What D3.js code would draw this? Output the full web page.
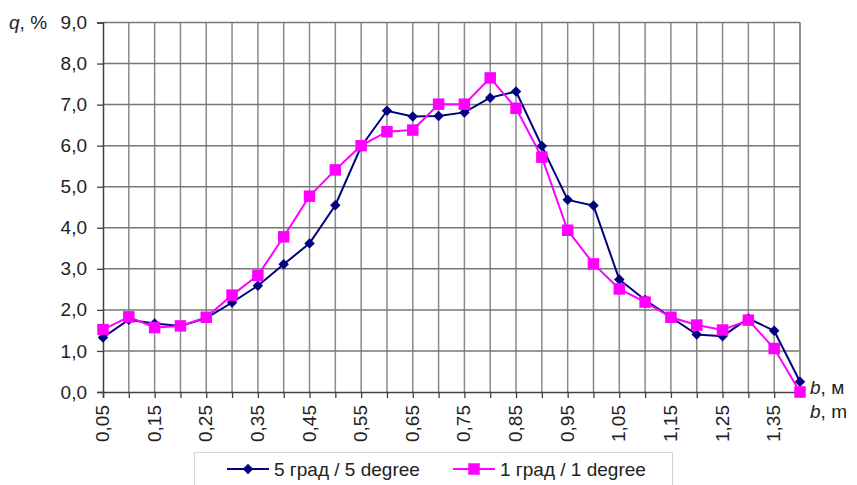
<!DOCTYPE html>
<html>
<head>
<meta charset="utf-8">
<script src="https://cdn.jsdelivr.net/npm/d3@7"></script>
<style>
  body { margin: 0; background: #fff; }
  svg { font-family: "Liberation Sans", Arial, sans-serif; }
</style>
</head>
<body>
<svg width="857" height="485"></svg>
<script>
var categories = [0.05, 0.10, 0.15, 0.20, 0.25, 0.30, 0.35, 0.40, 0.45, 0.50,
                  0.55, 0.60, 0.65, 0.70, 0.75, 0.80, 0.85, 0.90, 0.95, 1.00,
                  1.05, 1.10, 1.15, 1.20, 1.25, 1.30, 1.35, 1.40];

var deg5 = [1.33, 1.76, 1.67, 1.61, 1.80, 2.18, 2.59, 3.11, 3.62, 4.55,
            5.98, 6.85, 6.71, 6.72, 6.81, 7.17, 7.32, 5.99, 4.68, 4.54,
            2.74, 2.24, 1.82, 1.40, 1.36, 1.79, 1.49, 0.25];

var deg1 = [1.52, 1.83, 1.57, 1.61, 1.82, 2.36, 2.84, 3.78, 4.77, 5.41,
            6.00, 6.34, 6.38, 7.01, 7.01, 7.65, 6.91, 5.72, 3.94, 3.12,
            2.51, 2.19, 1.82, 1.63, 1.51, 1.75, 1.06, 0.00];

var yTicks = [0, 1, 2, 3, 4, 5, 6, 7, 8, 9];
var xLabels = ["0,05", "0,15", "0,25", "0,35", "0,45", "0,55", "0,65",
               "0,75", "0,85", "0,95", "1,05", "1,15", "1,25", "1,35"];

var seriesNames = ["5 град / 5 degree", "1 град / 1 degree"];
var seriesColors = ["#000080", "#ff00ff"];

var fontSize = 19;

var svg = d3.select("svg");

var plotLeft = 103, plotRight = 800, plotTop = 22.5, plotBottom = 392;

var scaleX = d3.scaleLinear()
                .domain([categories[0], categories[categories.length - 1]])
                .range([plotLeft, plotRight]);

var scaleY = d3.scaleLinear()
                .domain([0, 9])
                .range([plotBottom, plotTop]);

// grid
var grid = svg.append("g");
grid.selectAll(".vgrid")
    .data(categories.slice(1))
    .enter()
    .append("line")
    .attr("x1", function(d) { return scaleX(d) })
    .attr("x2", function(d) { return scaleX(d) })
    .attr("y1", plotTop)
    .attr("y2", plotBottom)
    .attr("stroke", "#8a8a8a")
    .attr("stroke-width", 1.5);

grid.selectAll(".hgrid")
    .data(yTicks.slice(1))
    .enter()
    .append("line")
    .attr("x1", plotLeft)
    .attr("x2", plotRight)
    .attr("y1", function(d) { return scaleY(d) })
    .attr("y2", function(d) { return scaleY(d) })
    .attr("stroke", "#777")
    .attr("stroke-width", 1.5);

// y axis
var yAxis = svg.append("g")
    .attr("transform", "translate(" + plotLeft + ",0)")
    .call(d3.axisLeft(scaleY)
            .tickValues(yTicks)
            .tickSize(6)
            .tickPadding(10)
            .tickFormat(function(d) { return d.toFixed(1).replace(".", ",") }));
yAxis.select(".domain").attr("stroke", "#404040").attr("stroke-width", 1.5);
yAxis.selectAll(".tick line").attr("stroke", "#404040").attr("stroke-width", 1.3);
yAxis.selectAll("text")
    .attr("font-size", fontSize)
    .attr("fill", "#222")
    .attr("font-family", "Liberation Sans, Arial, sans-serif");

// x axis
var xAxis = svg.append("g")
    .attr("transform", "translate(0," + plotBottom + ")")
    .call(d3.axisBottom(scaleX)
            .tickValues(categories)
            .tickSize(6)
            .tickFormat(""));
xAxis.select(".domain").attr("stroke", "#404040").attr("stroke-width", 1.5);
xAxis.selectAll(".tick line").attr("stroke", "#404040").attr("stroke-width", 1.3);

svg.append("g")
    .selectAll("text")
    .data(xLabels)
    .enter()
    .append("text")
    .attr("transform", function(d, i) {
        return "translate(" + (scaleX(categories[i * 2]) + 6) + "," + 405 + ") rotate(-90)";
    })
    .attr("text-anchor", "end")
    .attr("font-size", fontSize)
    .attr("fill", "#222")
    .text(function(d) { return d });

// right border
svg.append("line")
    .attr("x1", plotRight).attr("x2", plotRight)
    .attr("y1", plotTop).attr("y2", plotBottom)
    .attr("stroke", "#8a8a8a").attr("stroke-width", 1.5);

// axis titles
var qLabel = svg.append("text")
    .attr("x", 9).attr("y", 29)
    .attr("font-size", fontSize)
    .attr("fill", "#222");
qLabel.append("tspan").attr("font-style", "italic").text("q");
qLabel.append("tspan").text(", %");

[["b", ", м", 394], ["b", ", m", 418]].forEach(function(t) {
    var lab = svg.append("text")
        .attr("x", 810).attr("y", t[2])
        .attr("font-size", fontSize)
        .attr("fill", "#222");
    lab.append("tspan").attr("font-style", "italic").text(t[0]);
    lab.append("tspan").text(t[1]);
});

// series
var line = d3.line()
    .x(function(d) { return scaleX(d.x) })
    .y(function(d) { return scaleY(d.y) });

var diamond = d3.symbol().type(d3.symbolSquare).size(55);
var square = d3.symbol().type(d3.symbolSquare).size(132);

[deg5, deg1].forEach(function(vals, s) {
    var pts = vals.map(function(v, i) { return { x: categories[i], y: v } });
    svg.append("path")
        .datum(pts)
        .attr("fill", "none")
        .attr("stroke", seriesColors[s])
        .attr("stroke-width", 2)
        .attr("d", line);
});

[deg5, deg1].forEach(function(vals, s) {
    var pts = vals.map(function(v, i) { return { x: categories[i], y: v } });
    svg.append("g")
        .selectAll("path")
        .data(pts)
        .enter()
        .append("path")
        .attr("d", s == 0 ? diamond : square)
        .attr("transform", function(d) {
            return "translate(" + scaleX(d.x) + "," + scaleY(d.y) + ")" + (s == 0 ? " rotate(45)" : "");
        })
        .attr("fill", seriesColors[s]);
});

// legend
var legend = svg.append("g");
legend.append("rect")
    .attr("x", 194.5).attr("y", 452.5)
    .attr("width", 478).attr("height", 40)
    .attr("fill", "#fff")
    .attr("stroke", "#d4d4d4")
    .attr("stroke-width", 1);

var legendX = [227, 453];
var textX = [274, 500];
seriesNames.forEach(function(name, s) {
    var g = legend.append("g");
    g.append("line")
        .attr("x1", legendX[s]).attr("x2", legendX[s] + 42)
        .attr("y1", 469).attr("y2", 469)
        .attr("stroke", seriesColors[s])
        .attr("stroke-width", 2);
    g.append("path")
        .attr("d", s == 0 ? diamond : square)
        .attr("transform", "translate(" + (legendX[s] + 21) + ",469)" + (s == 0 ? " rotate(45)" : ""))
        .attr("fill", seriesColors[s]);
    g.append("text")
        .attr("x", textX[s]).attr("y", 476)
        .attr("font-size", fontSize)
        .attr("fill", "#222")
        .text(name);
});
</script>
</body>
</html>
